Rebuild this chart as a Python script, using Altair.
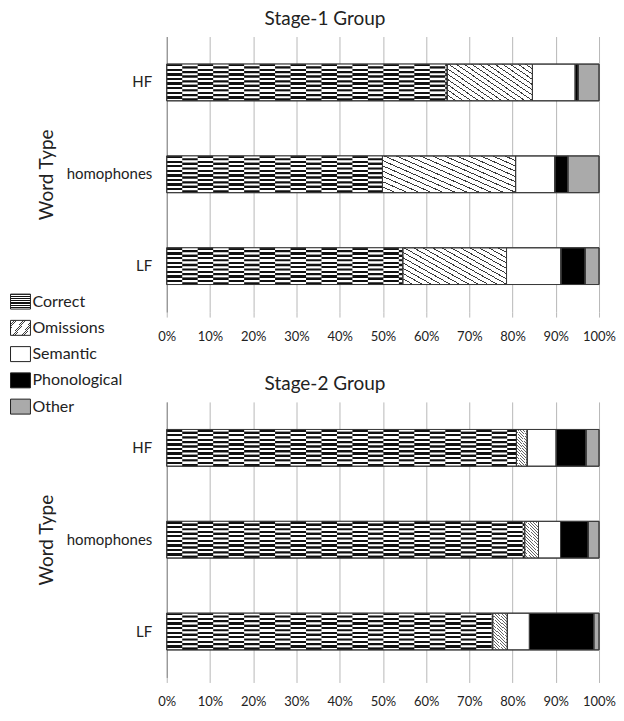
import altair as alt
import pandas as pd

word_types = ["HF", "homophones", "LF"]
categories = ["Correct", "Omissions", "Semantic", "Phonological", "Other"]

# Stage-1 Group (percent of responses per word type)
s1_correct = [64.9, 49.9, 54.6]
s1_omissions = [19.7, 30.8, 24.0]
s1_semantic = [9.9, 9.1, 12.6]
s1_phonological = [0.7, 3.0, 5.6]
s1_other = [4.8, 7.2, 3.2]

# Stage-2 Group
s2_correct = [80.9, 82.8, 75.4]
s2_omissions = [2.5, 3.2, 3.4]
s2_semantic = [6.7, 5.1, 5.1]
s2_phonological = [6.9, 6.4, 14.9]
s2_other = [3.0, 2.5, 1.2]

x_ticks = [0, 10, 20, 30, 40, 50, 60, 70, 80, 90, 100]

FONT = "Lato"
TXT = "#222222"


def build(series):
    rows = []
    for i, w in enumerate(word_types):
        start = 0.0
        for c, vals in zip(categories, series):
            rows.append({"word": w, "cat": c, "start": start, "end": start + vals[i]})
            start += vals[i]
    return pd.DataFrame(rows)


def brick_rows(correct):
    rows = []
    for i, w in enumerate(word_types):
        for r in range(16):
            rows.append({"word": w, "row": r, "start": 0.0, "end": correct[i],
                         "parity": "even" if r % 2 == 0 else "odd"})
    return pd.DataFrame(rows)


def grad(x1, y1, x2, y2, n, dark, light, frac):
    stops = []
    for i in range(n):
        a = i / n
        b = (i + frac) / n
        c = (i + 1) / n
        stops += [(a, dark), (b, dark), (b, light), (c, light)]
    s = ",".join("{offset:%.4f,color:'%s'}" % (o, col) for o, col in stops)
    return {"expr": "{gradient:'linear',x1:%s,y1:%s,x2:%s,y2:%s,stops:[%s]}" % (x1, y1, x2, y2, s)}


correct_fill = grad(0, 0, 0, 1, 8, "#111111", "#ffffff", 0.5)
hatch_top = grad(0, 1, 1.167, 0.265, 18, "#3a3a3a", "#ffffff", 0.2)
hatch_bottom = grad(0, 1, 0.422, -0.203, 16, "#666666", "#ffffff", 0.3)


def panel(title, series, hatch, show_legend):
    df = build(series)
    bricks = brick_rows(series[0])
    xenc = alt.X("start:Q", scale=alt.Scale(domain=[0, 100], nice=False),
                 axis=alt.Axis(values=x_ticks, labelExpr="datum.value + '%'", grid=True,
                               gridColor="#b8b8b8", domain=False, ticks=True, tickSize=5,
                               tickColor="#b8b8b8", labelOverlap=False, labelFlush=False,
                               labelPadding=13, labelFontSize=13, labelColor=TXT, title=None))
    yenc = alt.Y("word:N", sort=word_types,
                 scale=alt.Scale(paddingInner=0.6, paddingOuter=0.3),
                 axis=alt.Axis(title="Word Type", titleFontSize=19, titleFontWeight="normal",
                               titleColor=TXT, titlePadding=10, labelFontSize=15, labelPadding=15,
                               ticks=False, tickSize=0, domainColor="#888888", labelColor=TXT))
    if show_legend:
        leg = alt.Legend(orient="none", legendX=-154.5, legendY=257.5, title=None,
                         labelFontSize=16, labelColor=TXT,
                         symbolType="M-1.33,-1H1.33V1H-1.33Z", symbolSize=225,
                         symbolStrokeColor="#222222", symbolStrokeWidth=1, rowPadding=6.3,
                         labelOffset=4, padding=0)
    else:
        leg = None
    color = alt.Color("cat:N", sort=categories,
                      scale=alt.Scale(domain=categories,
                                      range=[correct_fill, hatch, "#ffffff", "#000000", "#aaaaaa"]),
                      legend=leg)
    bars = alt.Chart(df).mark_bar(stroke="#3a3a3a", strokeWidth=1).encode(
        x=xenc, x2="end:Q", y=yenc, color=color)
    rules = alt.Chart(bricks).mark_rule(strokeWidth=2.35, strokeDash=[15.5, 15.5],
                                        strokeDashOffset=15.5).encode(
        x="start:Q", x2="end:Q", y=alt.Y("word:N", sort=word_types),
        yOffset=alt.YOffset("row:O", scale=alt.Scale(paddingInner=0, paddingOuter=0)),
        stroke=alt.Stroke("parity:N", scale=alt.Scale(domain=["even", "odd"],
                                                      range=["#ffffff", "#111111"]), legend=None))
    border = alt.Chart(df).mark_bar(fill="#ffffff", fillOpacity=0, stroke="#3a3a3a",
                                    strokeWidth=1).encode(
        x="start:Q", x2="end:Q", y=alt.Y("word:N", sort=word_types))
    return alt.layer(bars, rules, border).properties(
        width=433, height=276,
        title=alt.TitleParams(title, fontSize=19, fontWeight="normal", frame="group",
                              anchor="middle", dx=-58, offset=8, color=TXT))


top = panel("Stage-1 Group", [s1_correct, s1_omissions, s1_semantic, s1_phonological, s1_other],
            hatch_top, True)
bottom = panel("Stage-2 Group", [s2_correct, s2_omissions, s2_semantic, s2_phonological, s2_other],
               hatch_bottom, False)

chart = alt.vconcat(top, bottom, spacing=90, bounds="flush").resolve_scale(
    color="independent").configure(
    font=FONT, padding={"left": 4, "top": 1, "right": 0, "bottom": 0}).configure_view(stroke=None)

chart.save("out.html", embed_options={"renderer": "svg", "actions": False})
